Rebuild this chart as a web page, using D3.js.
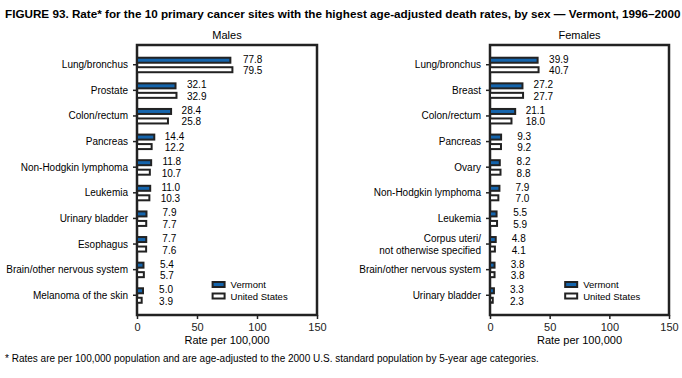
<!DOCTYPE html>
<html><head><meta charset="utf-8">
<script src="https://cdn.jsdelivr.net/npm/d3@7"></script>
<style>body{margin:0;background:#fff}svg{display:block;font-family:"Liberation Sans",Arial,sans-serif}</style>
</head><body><svg id="c" width="682" height="378"></svg>
<script>
const maleCategories = ["Lung/bronchus","Prostate","Colon/rectum","Pancreas","Non-Hodgkin lymphoma","Leukemia","Urinary bladder","Esophagus","Brain/other nervous system","Melanoma of the skin"];
const maleVermont = [77.8,32.1,28.4,14.4,11.8,11.0,7.9,7.7,5.4,5.0];
const maleUS = [79.5,32.9,25.8,12.2,10.7,10.3,7.7,7.6,5.7,3.9];
const femaleCategories = ["Lung/bronchus","Breast","Colon/rectum","Pancreas","Ovary","Non-Hodgkin lymphoma","Leukemia","Corpus uteri/\nnot otherwise specified","Brain/other nervous system","Urinary bladder"];
const femaleVermont = [39.9,27.2,21.1,9.3,8.2,7.9,5.5,4.8,3.8,3.3];
const femaleUS = [40.7,27.7,18.0,9.2,8.8,7.0,5.9,4.1,3.8,2.3];
const xTicks = [0,50,100,150];
const seriesNames = ["Vermont","United States"];
const blue = "#1464ac";

const svg = d3.select("#c");
svg.append("text").attr("x",5).attr("y",18).attr("font-size",11.7).attr("font-weight","bold")
  .text("FIGURE 93. Rate* for the 10 primary cancer sites with the highest age-adjusted death rates, by sex \u2014 Vermont, 1996\u20132000");
svg.append("text").attr("x",5).attr("y",362).attr("font-size",10)
  .text("* Rates are per 100,000 population and are age-adjusted to the 2000 U.S. standard population by 5-year age categories.");

function panel(title, cats, vt, us, x0, x1) {
  const top = 45, bottom = 315;
  const x = d3.scaleLinear().domain([0,150]).range([x0,x1]);
  const y = d3.scalePoint().domain(cats).range([top,bottom]).padding(0.77);
  const g = svg.append("g");
  g.append("text").attr("x",(x0+x1)/2).attr("y",39).attr("text-anchor","middle").attr("font-size",11).text(title);
  g.append("rect").attr("x",x0).attr("y",top).attr("width",x1-x0).attr("height",bottom-top)
    .attr("fill","none").attr("stroke","#222").attr("stroke-width",2.5);
  g.selectAll(".yt").data(cats).join("line").attr("x1",x0-4).attr("x2",x0).attr("y1",d=>y(d)).attr("y2",d=>y(d))
    .attr("stroke","#222").attr("stroke-width",1.5);
  cats.forEach(c => {
    const lines = c.split("\n");
    const t = g.append("text").attr("x",x0-9).attr("text-anchor","end").attr("font-size",10);
    lines.forEach((l,i) => t.append("tspan").attr("x",x0-9)
      .attr("y", y(c) + 3.5 + (i - (lines.length-1)/2)*12).text(l));
  });
  cats.forEach((c,i) => {
    g.append("rect").attr("x",x(0)).attr("y",y(c)-7).attr("width",x(vt[i])-x(0)).attr("height",5)
      .attr("fill",blue).attr("stroke","#222").attr("stroke-width",2);
    g.append("rect").attr("x",x(0)).attr("y",y(c)+2.5).attr("width",x(us[i])-x(0)).attr("height",5)
      .attr("fill","#fff").attr("stroke","#222").attr("stroke-width",2);
    const lx = x(Math.max(vt[i],us[i])) + 30;
    g.append("text").attr("x",lx).attr("y",y(c)-2).attr("text-anchor","end").attr("font-size",10).text(vt[i].toFixed(1));
    g.append("text").attr("x",lx).attr("y",y(c)+9.5).attr("text-anchor","end").attr("font-size",10).text(us[i].toFixed(1));
  });
  const ax = g.append("g").attr("transform",`translate(0,${bottom})`)
    .call(d3.axisBottom(x).tickValues(xTicks).tickSize(4).tickFormat(d3.format("d")));
  ax.select(".domain").remove();
  ax.selectAll("line").attr("stroke","#222").attr("stroke-width",1.5);
  ax.selectAll("text").attr("font-size",11).attr("fill","#222").attr("font-family","Liberation Sans, Arial").attr("dy","0.85em");
  g.append("text").attr("x",(x0+x1)/2).attr("y",344).attr("text-anchor","middle").attr("font-size",11).text("Rate per 100,000");
  const lgx = x(0) + (x1-x0)*0.42;
  seriesNames.forEach((s,i) => {
    g.append("rect").attr("x",lgx).attr("y",282+i*11.5).attr("width",12).attr("height",5)
      .attr("fill", i===0?blue:"#fff").attr("stroke","#222").attr("stroke-width",2);
    g.append("text").attr("x",lgx+18).attr("y",288+i*11.5).attr("font-size",9.5).text(s);
  });
}
panel("Males", maleCategories, maleVermont, maleUS, 137, 317);
panel("Females", femaleCategories, femaleVermont, femaleUS, 490, 669);
</script></body></html>
